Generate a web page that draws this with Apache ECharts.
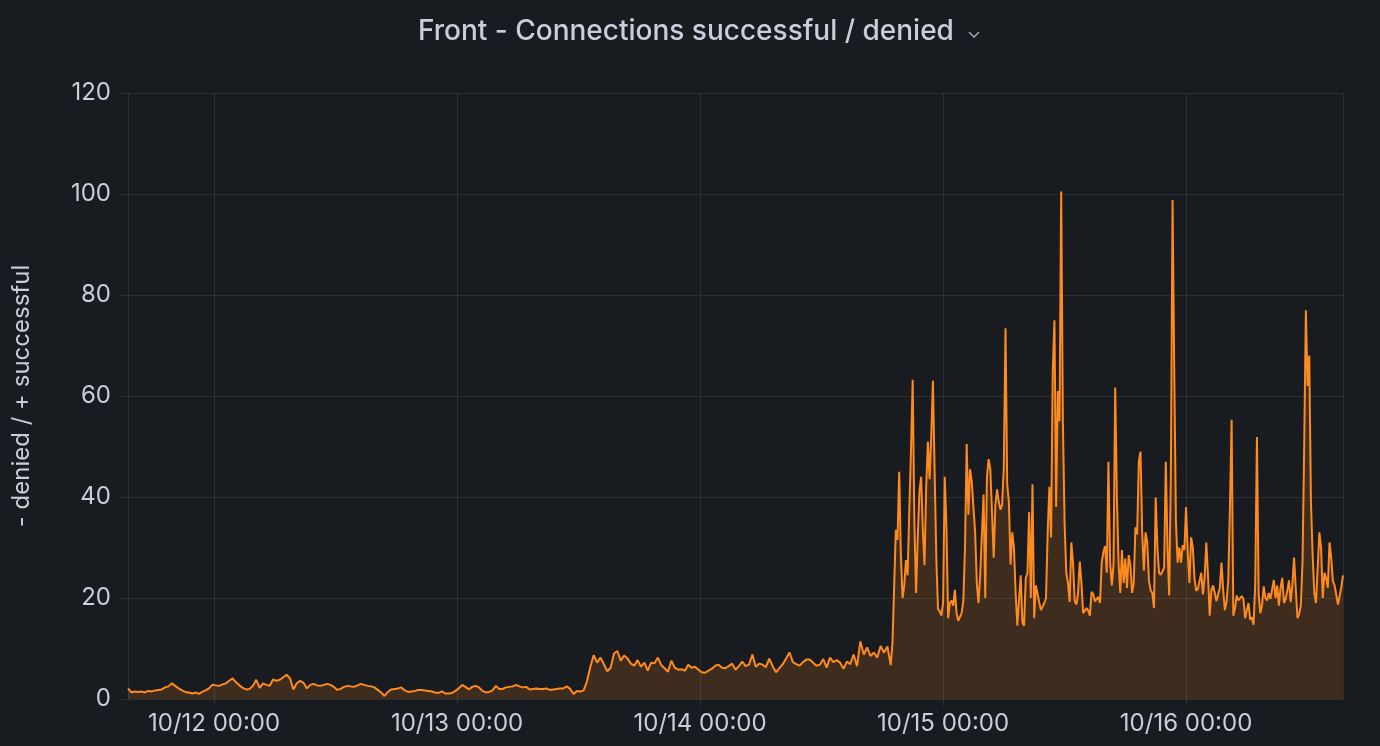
<!DOCTYPE html>
<html>
<head>
<meta charset="utf-8">
<script src="https://cdn.jsdelivr.net/npm/echarts@6/dist/echarts.min.js"></script>
<style>
html,body{margin:0;padding:0;background:#181b1f;}
#chart{width:1380px;height:746px;}
</style>
</head>
<body>
<div id="chart"></div>
<script>
// ---- chart data ----
const TITLE = 'Front - Connections successful / denied';
const Y_NAME = '- denied / + successful';
const Y_MIN = 0, Y_MAX = 120, Y_STEP = 20;
const X_START = [2024, 10, 11, 15, 30];   // axis start (local time)
const X_END   = [2024, 10, 16, 15, 30];   // axis end

// segment 1: 20-minute samples from 10/11 15:30
const SEG1_START = [2024, 10, 11, 15, 30];
const SEG1_STEP_MIN = 20;
const seg1Values = [
 2.1,1.3,1.5,1.4,1.5,1.3,1.6,1.5,1.7,1.8,
 1.9,2.3,2.5,3.1,2.6,2.1,1.7,1.4,1.3,1.1,
 1.3,1.0,1.4,1.7,2.1,2.8,2.7,2.6,2.9,3.1,
 3.6,4.1,3.3,2.7,2.2,1.9,2.0,2.6,3.8,2.2,
 3.1,2.8,2.6,3.9,3.6,3.8,4.3,4.8,4.1,1.9,
 3.1,3.6,3.2,2.1,2.8,3.0,2.7,2.6,2.8,3.0,
 2.8,2.4,1.8,2.0,2.4,2.6,2.5,2.4,2.7,3.0,
 2.8,2.6,2.5,2.3,1.8,1.3,0.6,1.4,1.9,2.0,
 2.1,2.3,1.7,1.4,1.5,1.6,1.8,
 1.8,1.7,1.6,1.5,1.3,1.2,1.5,1.1,1.1,1.2,
 1.6,2.1,2.8,2.4,1.9,2.4,2.6,2.3,1.6,1.3,
 1.4,1.7,2.6,2.0,2.0,2.3,2.4,2.5,2.8,2.5,
 2.3,2.4,1.9,2.0,2.1,2.0,2.0,2.1,1.8,1.9,
 2.0,2.1,2.1,2.5,2.0,1.0,1.6,1.5,1.7,3.5,
 6.4,8.7,7.2,8.2,6.9,5.5,6.2,9.0,9.5,7.6,
 8.6,8.0,7.0,6.6,7.7,6.4,7.2,5.6,7.2,7.1,
 8.2,6.7,6.1,5.4,7.6,6.2,5.8,5.9,5.6,6.8,
 6.2,6.4,5.8,5.3,5.2,5.6,6.0,6.6,6.8,
 6.2,6.1,6.5,7.0,5.8,6.5,7.4,6.5,6.8,8.8,
 6.4,7.0,6.8,6.3,8.0,6.5,5.3,6.1,6.9,8.0,
 9.2,7.3,6.9,6.6,7.3,7.8,7.8,7.2,6.6,6.8,
 7.9,6.2,8.2,7.3,7.7,7.2,6.0,7.4,6.9,8.8,
 6.5,11.4,8.8,10.2,8.5,9.2,8.2,10.5,9.2,10.4,6.7
];

// segment 2: 10-minute samples from 10/14 19:00
const SEG2_START = [2024, 10, 14, 19, 0];
const SEG2_STEP_MIN = 10;
const seg2Values = [
 11.0,22.0,33.5,31.5,45.0,28.5,20.0,22.5,27.5,24.5,
 37.4,49.3,63.2,35.0,21.0,32.0,41.0,44.0,33.5,26.5,
 42.0,51.0,43.5,52.0,63.0,45.0,28.0,17.8,17.4,16.5,
 19.0,44.0,34.0,16.0,19.0,19.5,18.5,21.6,17.0,15.5,
 15.4,17.0,19.5,30.0,50.5,36.5,45.5,43.0,38.0,33.0,
 23.0,19.0,24.5,24.5,40.5,20.0,44.0,47.5,45.5,37.0,
 28.0,38.5,41.5,39.0,37.5,38.5,46.0,73.4,42.6,39.0,
 26.6,33.0,30.0,21.0,14.5,14.5,24.5,15.2,14.5,23.9,
 25.0,37.0,20.0,42.5,16.0,22.5,22.5,19.1,17.6,18.3,
 19.0,
 20.0,33.0,42.0,32.0,65.0,75.0,38.0,61.0,55.0,100.5,
 55.0,35.0,25.0,23.0,19.2,31.0,27.0,19.5,18.7,21.0,
 27.2,23.0,17.0,17.3,18.0,17.5,16.5,21.2,20.8,19.3,
 19.8,20.2,19.0,27.0,29.1,30.3,25.0,47.0,27.0,22.5,
 26.5,61.7,40.0,27.0,21.0,29.5,23.0,27.8,22.0,28.5,
 26.5,21.0,23.0,34.0,32.6,47.0,49.0,33.0,25.4,33.0,
 31.0,23.5,21.5,21.0,18.0,39.9,30.0,25.0,24.6,24.4,
 26.0,47.0,30.0,20.5,45.0,98.8,65.0,35.0,27.0,30.0,
 27.0,30.5,29.5,38.0,29.0,23.0,32.0,30.0,23.9,21.4,
 21.8,
 22.0,25.0,20.7,24.2,31.0,24.5,16.5,21.5,22.5,21.0,
 19.4,19.7,22.0,27.0,21.5,17.6,19.2,23.5,38.0,55.3,
 16.5,17.9,20.5,19.5,19.7,20.4,19.8,16.0,17.6,19.0,
 15.7,16.2,14.7,23.0,51.9,20.8,17.0,18.5,22.3,20.0,
 19.5,21.0,19.8,21.7,23.6,20.0,22.5,18.5,22.0,24.0,
 19.0,19.8,21.5,23.5,19.2,22.6,28.0,22.0,16.0,16.8,
 18.5,27.0,50.0,77.0,62.0,68.0,39.0,28.5,21.0,19.0,
 19.0,33.0,30.0,20.0,25.0,24.0,22.0,31.0,28.0,23.4,
 22.5,20.7,18.7,18.5,22.1,24.5
];

// ---- build ----
const MS_MIN = 60000;
const toTime = a => new Date(a[0], a[1] - 1, a[2], a[3], a[4]).getTime();
const seriesData = [];
const t1 = toTime(SEG1_START);
seg1Values.forEach((v, i) => seriesData.push([t1 + i * SEG1_STEP_MIN * MS_MIN, v]));
const t2 = toTime(SEG2_START);
seg2Values.forEach((v, i) => seriesData.push([t2 + i * SEG2_STEP_MIN * MS_MIN, v]));

const pad = n => (n < 10 ? '0' : '') + n;
const TEXT = '#ccccdc';
const GRID = 'rgba(240,250,255,0.09)';
const FONT = 'Inter, "Noto Sans", sans-serif';

const chart = echarts.init(document.getElementById('chart'), null, {renderer: 'canvas'});
chart.setOption({
  backgroundColor: '#181b1f',
  animation: false,
  title: {
    text: TITLE,
    left: 413, top: 13,
    textStyle: {color: TEXT, fontSize: 28, fontWeight: 500, fontFamily: FONT}
  },
  graphic: [{
    type: 'polyline',
    shape: {points: [[969, 32], [974, 37], [979, 32]]},
    style: {stroke: '#9fa0a8', lineWidth: 1.6, fill: null}
  }],
  grid: {left: 128, right: 37, top: 93, bottom: 47, containLabel: false},
  xAxis: {
    type: 'time',
    min: toTime(X_START), max: toTime(X_END),
    minInterval: 24 * 60 * MS_MIN, maxInterval: 24 * 60 * MS_MIN,
    axisLine: {show: false},
    axisTick: {show: true, length: 7, lineStyle: {color: GRID}},
    splitLine: {show: true, lineStyle: {color: GRID, width: 1}},
    axisLabel: {
      color: TEXT, fontSize: 24, fontFamily: FONT, margin: 13,
      formatter: v => { const d = new Date(v); return pad(d.getMonth() + 1) + '/' + pad(d.getDate()) + ' ' + pad(d.getHours()) + ':' + pad(d.getMinutes()); }
    }
  },
  yAxis: {
    type: 'value', min: Y_MIN, max: Y_MAX, interval: Y_STEP,
    name: Y_NAME, nameLocation: 'middle', nameGap: 94, nameRotate: 90,
    nameTextStyle: {color: TEXT, fontSize: 24, fontFamily: FONT},
    axisLine: {show: false},
    axisTick: {show: true, length: 7, lineStyle: {color: GRID}},
    splitLine: {show: true, lineStyle: {color: GRID, width: 1}},
    axisLabel: {color: TEXT, fontSize: 24, fontFamily: FONT, margin: 17}
  },
  series: [{
    type: 'line',
    data: seriesData,
    showSymbol: false,
    symbol: 'none',
    lineStyle: {color: '#ff8a1e', width: 2},
    itemStyle: {color: '#ff8a1e'},
    areaStyle: {color: 'rgba(255,135,30,0.24)'}
  }]
});
</script>
</body>
</html>
